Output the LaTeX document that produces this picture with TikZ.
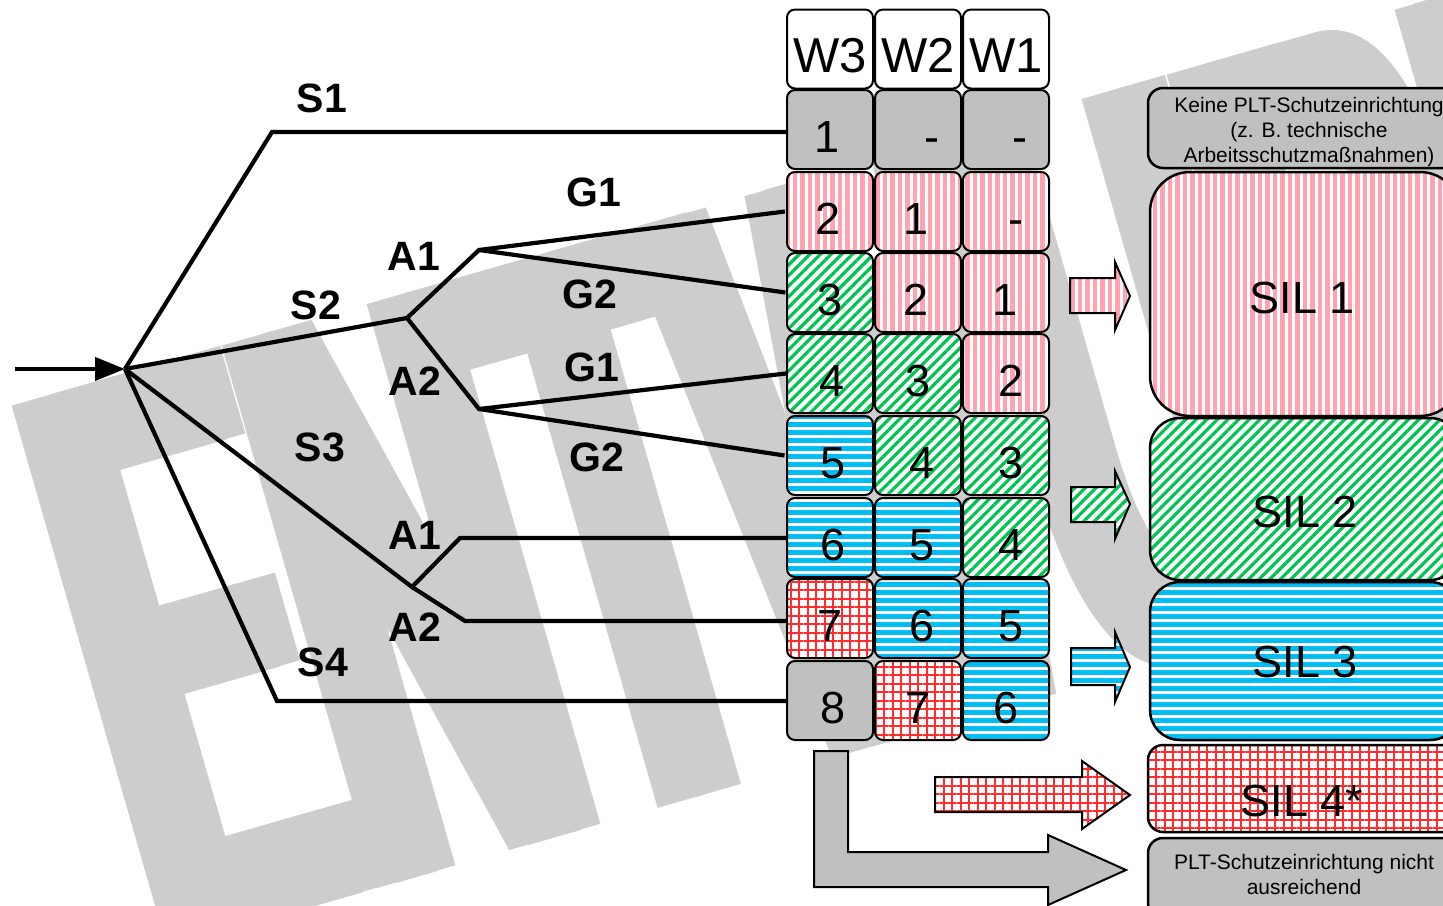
\documentclass[tikz,border=0pt]{standalone}
\usepackage{fontspec}
\setmainfont{Liberation Sans}
\usetikzlibrary{patterns.meta,arrows.meta,calc}

\definecolor{cellgray}{RGB}{192,192,192}
\definecolor{pinkc}{RGB}{255,163,177}
\definecolor{greenc}{RGB}{0,196,80}
\definecolor{bluec}{RGB}{0,190,242}
\definecolor{redc}{RGB}{255,45,45}
\definecolor{wmgray}{RGB}{205,205,205}

% one cell of the risk graph table: name, x, y, fill style, text, text x offset, text style
\newcommand{\gridcell}[7]{%
  \node[cell,#4] (#1) at (#2,#3) {};
  \node[#7, anchor=base] (#1t) at ([xshift=#6pt, yshift=-23pt]#1.center) {#5};
}

\begin{document}
\begin{tikzpicture}[x=1pt, y=-1pt,
  tree/.style={line width=4.2pt, line join=miter},
  cell/.style={draw, line width=2pt, rounded corners=8pt, minimum width=86pt,
    minimum height=79pt, inner sep=0pt},
  num/.style={inner sep=0pt, font=\fontsize{45}{45}\selectfont},
  hnum/.style={inner sep=0pt, font=\fontsize{49}{49}\selectfont},
  lbl/.style={inner sep=0pt, font=\fontsize{41}{41}\selectfont\bfseries},
  bigbox/.style={draw, line width=2.5pt, inner sep=0pt},
  small/.style={inner sep=0pt, align=center, font=\fontsize{21}{25}\selectfont},
  sil/.style={inner sep=0pt, font=\fontsize{45}{45}\selectfont},
  barrow/.style={draw, line width=2pt, line join=miter},
  whitef/.style={fill=white},
  greyf/.style={fill=cellgray},
  pinkf/.style={preaction={fill=white}, pattern={Lines[angle=90,distance=7.5pt,line width=4.3pt]}, pattern color=pinkc},
  greenf/.style={preaction={fill=white}, pattern={Lines[angle=45,distance=7.5pt,line width=3.2pt]}, pattern color=greenc},
  bluef/.style={preaction={fill=white}, pattern={Lines[angle=0,distance=8pt,line width=5pt]}, pattern color=bluec},
  redf/.style={preaction={fill=white}, pattern={Hatch[angle=0,distance=8.5pt,line width=2pt]}, pattern color=redc},
  wm/.style={anchor=base west, rotate=16, xscale=0.40, inner sep=0pt, text=wmgray,
    font=\fontsize{820}{820}\selectfont\bfseries}
]
\useasboundingbox (0,0) rectangle (1443,905);
\clip (0,0) rectangle (1443,905);

% background lettering, widened by repeating it along its baseline
\coordinate (wmo) at (146,955);
\foreach \d in {0,20,40} {
  \node[wm] (wm\d) at ($(wmo)+(0.961*\d,-0.276*\d)$) {ENTWURF};
}

% header row
\gridcell{h3}{830}{49}{whitef}{W3}{0}{hnum}
\gridcell{h2}{918}{49}{whitef}{W2}{0}{hnum}
\gridcell{h1}{1006}{49}{whitef}{W1}{0}{hnum}

% table body
\gridcell{c11}{830}{129.5}{greyf}{1}{-3}{num}
\gridcell{c12}{918}{129.5}{greyf}{-}{14}{num}
\gridcell{c13}{1006}{129.5}{greyf}{-}{14}{num}

\gridcell{c21}{830}{211.5}{pinkf}{2}{-2}{num}
\gridcell{c22}{918}{211.5}{pinkf}{1}{-2}{num}
\gridcell{c23}{1006}{211.5}{pinkf}{-}{10}{num}

\gridcell{c31}{830}{292.5}{greenf}{3}{0}{num}
\gridcell{c32}{918}{292.5}{pinkf}{2}{-2}{num}
\gridcell{c33}{1006}{292.5}{pinkf}{1}{-1}{num}

\gridcell{c41}{830}{373.5}{greenf}{4}{2}{num}
\gridcell{c42}{918}{373.5}{greenf}{3}{0}{num}
\gridcell{c43}{1006}{373.5}{pinkf}{2}{5}{num}

\gridcell{c51}{830}{455.5}{bluef}{5}{3}{num}
\gridcell{c52}{918}{455.5}{greenf}{4}{4}{num}
\gridcell{c53}{1006}{455.5}{greenf}{3}{5}{num}

\gridcell{c61}{830}{537.5}{bluef}{6}{3}{num}
\gridcell{c62}{918}{537.5}{bluef}{5}{4}{num}
\gridcell{c63}{1006}{537.5}{greenf}{4}{5}{num}

\gridcell{c71}{830}{618.5}{redf}{7}{0}{num}
\gridcell{c72}{918}{618.5}{bluef}{6}{4}{num}
\gridcell{c73}{1006}{618.5}{bluef}{5}{5}{num}

\gridcell{c81}{830}{700.5}{greyf}{8}{3}{num}
\gridcell{c82}{918}{700.5}{redf}{7}{0}{num}
\gridcell{c83}{1006}{700.5}{bluef}{6}{0}{num}

% decision tree
\coordinate (in) at (15,369);
\coordinate (root) at (125,369);
\coordinate (s1) at (272,132);
\coordinate (s2) at (407,318);
\coordinate (a1) at (479,250);
\coordinate (a2) at (479,409);
\coordinate (s3) at (412,587);
\coordinate (s3a1) at (460,538);
\coordinate (s3a2) at (465,621);
\coordinate (s4) at (277,701);

\draw[tree] (root) -- (s1) -- (s1 -| c11.west);
\draw[tree] (root) -- (s2) -- (a1) -- (c21.west);
\draw[tree] (a1) -- (c31.west);
\draw[tree] (s2) -- (a2) -- (c41.west);
\draw[tree] (a2) -- (c51.west);
\draw[tree] (root) -- (s3) -- (s3a1) -- (s3a1 -| c61.west);
\draw[tree] (s3) -- (s3a2) -- (s3a2 -| c71.west);
\draw[tree] (root) -- (s4) -- (s4 -| c81.west);
\draw[tree, -{Triangle[length=30pt,width=23pt]}] (in) -- (root);

% branch labels
\node[lbl] (ls1) at (322,98) {S1};
\node[lbl] (ls2) at (316,305) {S2};
\node[lbl] (ls3) at (320,447) {S3};
\node[lbl] (ls4) at (323,662) {S4};
\node[lbl] (la1) at (414,256) {A1};
\node[lbl] (la2) at (415,381) {A2};
\node[lbl] (la3) at (415,535) {A1};
\node[lbl] (la4) at (415,627) {A2};
\node[lbl] (lg1) at (594,192) {G1};
\node[lbl] (lg2) at (590,294) {G2};
\node[lbl] (lg3) at (592,367) {G1};
\node[lbl] (lg4) at (597,457) {G2};

% result boxes
\node[bigbox, greyf, rounded corners=15pt, minimum width=322pt, minimum height=80pt] (keine) at (1309,128) {};
\node[small] (keinet) at (1309,132) {Keine PLT-Schutzeinrichtung\\(z. B. technische\\Arbeitsschutzmaßnahmen)};

\node[bigbox, pinkf, rounded corners=40pt, minimum width=310pt, minimum height=244pt] (sil1) at (1305,294) {};
\node[sil] (sil1t) at (1302,298) {SIL 1};
\node[bigbox, greenf, rounded corners=30pt, minimum width=310pt, minimum height=162pt] (sil2) at (1305,499) {};
\node[sil] (sil2t) at (1305,512) {SIL 2};
\node[bigbox, bluef, rounded corners=30pt, minimum width=310pt, minimum height=158pt] (sil3) at (1305,661) {};
\node[sil] (sil3t) at (1305,662) {SIL 3};
\node[bigbox, redf, rounded corners=15pt, minimum width=312pt, minimum height=87pt] (sil4) at (1304,788.5) {};
\node[sil] (sil4t) at (1302,801) {SIL 4*};
\node[bigbox, greyf, rounded corners=15pt, minimum width=312pt, minimum height=80pt] (nicht) at (1304,878) {};
\node[small] (nichtt) at (1304,874.5) {PLT-Schutzeinrichtung nicht\\ausreichend};

% block arrows
\draw[barrow, pinkf] (1070,278) -- (1115,278) -- (1115,262) -- (1130,296) -- (1115,330) -- (1115,313) -- (1070,313) -- cycle;
\draw[barrow, greenf] (1071,487) -- (1115,487) -- (1115,471) -- (1130,504) -- (1115,539) -- (1115,522) -- (1071,522) -- cycle;
\draw[barrow, bluef] (1071,648) -- (1115,648) -- (1115,632) -- (1130,667) -- (1115,702) -- (1115,685) -- (1071,685) -- cycle;
\draw[barrow, redf] (935,777) -- (1082,777) -- (1082,761) -- (1130,795) -- (1082,829) -- (1082,812) -- (935,812) -- cycle;
\draw[barrow, greyf] (814,751) -- (848,751) -- (848,852) -- (1048,852) -- (1048,835) -- (1126,870) -- (1048,905) -- (1048,887) -- (814,887) -- cycle;
\end{tikzpicture}
\end{document}
